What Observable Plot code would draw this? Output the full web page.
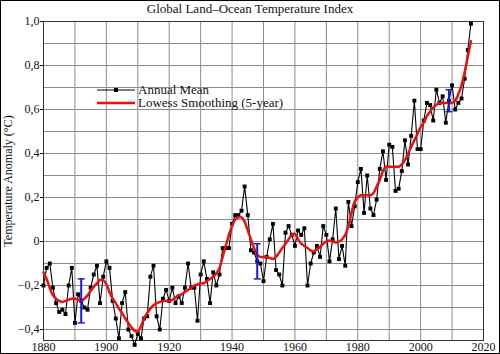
<!DOCTYPE html>
<html>
<head>
<meta charset="utf-8">
<script src="https://cdn.jsdelivr.net/npm/d3@7"></script>
<script src="https://cdn.jsdelivr.net/npm/@observablehq/plot@0.6"></script>
<style>
  body { margin: 0; background: #fff; }
  #wrap { position: relative; width: 500px; height: 354px; font-family: "Liberation Serif", "DejaVu Serif", serif; }
  #title { height: 16px; line-height: 17px; font-size: 13px; text-align: center; color: #111; }
  #border { position: absolute; left: 0; top: 0; width: 500px; height: 354px; box-sizing: border-box; border: 1.5px solid #000; pointer-events: none; }
  #legend { position: absolute; left: 97px; top: 83px; font-size: 13px; color: #111; }
  .row { display: flex; align-items: center; height: 13.5px; }
  .row svg { margin-right: 3px; }
  #chart svg { overflow: visible; }
  #chart svg, #chart svg text { font-family: "Liberation Serif", serif !important; }
</style>
</head>
<body>
<div id="wrap">
  <div id="title">Global Land–Ocean Temperature Index</div>
  <div id="chart"></div>
  <div id="legend">
    <div class="row"><svg width="38" height="8"><line x1="0" y1="4" x2="38" y2="4" stroke="#000" stroke-width="1"/><rect x="17" y="2" width="4" height="4" fill="#000"/></svg><span>Annual Mean</span></div>
    <div class="row"><svg width="38" height="8"><line x1="0" y1="4" x2="38" y2="4" stroke="#e81010" stroke-width="2.5"/></svg><span>Lowess Smoothing (5-year)</span></div>
  </div>
  <div id="border"></div>
</div>
<script>
const years = d3.range(1880, 2017);

const annualMean = [
  -0.20, -0.12, -0.10, -0.21, -0.28, -0.32, -0.31, -0.33, -0.20, -0.12, // 1880s
  -0.37, -0.24, -0.27, -0.30, -0.31, -0.21, -0.15, -0.11, -0.28, -0.16, // 1890s
  -0.09, -0.12, -0.27, -0.35, -0.44, -0.28, -0.23, -0.40, -0.43, -0.47, // 1900s
  -0.42, -0.44, -0.35, -0.34, -0.16, -0.11, -0.34, -0.40, -0.26, -0.22, // 1910s
  -0.27, -0.21, -0.28, -0.25, -0.28, -0.21, -0.10, -0.21, -0.21, -0.36, // 1920s
  -0.15, -0.09, -0.17, -0.28, -0.14, -0.20, -0.15, -0.03, -0.03, -0.03, // 1930s
   0.08,  0.12,  0.12,  0.14,  0.25,  0.12, -0.04, -0.05, -0.09, -0.10, // 1940s
  -0.18, -0.07,  0.01,  0.08, -0.13, -0.15, -0.20,  0.04,  0.07,  0.03, // 1950s
  -0.02,  0.05,  0.03,  0.06, -0.20, -0.10, -0.05, -0.02, -0.07,  0.07, // 1960s
   0.03, -0.09,  0.01,  0.15, -0.08, -0.02, -0.11,  0.18,  0.07,  0.16, // 1970s
   0.27,  0.33,  0.13,  0.30,  0.15,  0.12,  0.19,  0.33,  0.41,  0.28, // 1980s
   0.44,  0.43,  0.23,  0.24,  0.32,  0.46,  0.35,  0.48,  0.64,  0.42, // 1990s
   0.42,  0.55,  0.63,  0.62,  0.55,  0.69,  0.63,  0.66,  0.54,  0.64, // 2000s
   0.71,  0.60,  0.63,  0.65,  0.74,  0.87,  0.99                        // 2010s
];

const lowess5 = [
  -0.14, -0.17, -0.21, -0.245, -0.26, -0.27, -0.275, -0.27, -0.265, -0.26,
  -0.26, -0.265, -0.27, -0.26, -0.245, -0.225, -0.205, -0.19, -0.175, -0.175,
  -0.195, -0.23, -0.26, -0.28, -0.305, -0.325, -0.35, -0.37, -0.39, -0.405,
  -0.41, -0.385, -0.35, -0.325, -0.305, -0.29, -0.28, -0.275, -0.27, -0.27,
  -0.27, -0.265, -0.255, -0.245, -0.24, -0.23, -0.22, -0.21, -0.20, -0.195,
  -0.19, -0.19, -0.18, -0.17, -0.16, -0.145, -0.12, -0.07, -0.02, 0.03,
   0.07, 0.10, 0.11, 0.11, 0.09, 0.05, 0.01, -0.03, -0.06, -0.07,
  -0.07, -0.07, -0.075, -0.08, -0.07, -0.05, -0.03, -0.01, 0.01, 0.03,
   0.035, 0.01, -0.01, -0.02, -0.03, -0.04, -0.045, -0.035, -0.025, -0.01,
   0.0, 0.005, 0.0, -0.005, 0.0, 0.01, 0.03, 0.07, 0.13, 0.18,
   0.20, 0.21, 0.21, 0.21, 0.21, 0.22, 0.25, 0.28, 0.32, 0.34,
   0.34, 0.34, 0.34, 0.34, 0.35, 0.37, 0.40, 0.43, 0.46, 0.49,
   0.52, 0.54, 0.57, 0.59, 0.61, 0.62, 0.63, 0.63, 0.63, 0.63,
   0.63, 0.64, 0.67, 0.71, 0.77, 0.84, 0.91
];

const errYears = [1892, 1948, 2009];
const errLow   = [-0.37, -0.17, 0.59];
const errHigh  = [-0.17, -0.01, 0.69];

const xTicks = [1880, 1900, 1920, 1940, 1960, 1980, 2000, 2020];
const xTickLabels = ["1880", "1900", "1920", "1940", "1960", "1980", "2000", "2020"];
const yTicks = [-0.4, -0.2, 0, 0.2, 0.4, 0.6, 0.8, 1.0];
const yTickLabels = ["\u22120,4", "\u22120,2", "0", "0,2", "0,4", "0,6", "0,8", "1,0"];
const xGrid = d3.range(1880, 2021, 10);
const yGrid = d3.range(-4, 11).map(d => d / 10);

const annual = years.map((y, i) => ({year: y, value: annualMean[i]}));
const smooth = years.map((y, i) => ({year: y, value: lowess5[i]}));
const errs = errYears.map((y, i) => ({year: y, lo: errLow[i], hi: errHigh[i]}));

const capSymbol = {
  draw(ctx, size) {
    const r = Math.sqrt(size / Math.PI);
    ctx.moveTo(-r, 0);
    ctx.lineTo(r, 0);
  }
};

const chart = Plot.plot({
  width: 500,
  height: 338,
  marginTop: 5,
  marginBottom: 14,
  marginLeft: 43,
  marginRight: 17,
  style: {fontFamily: "'Liberation Serif', serif", fontSize: "12px", color: "#111", background: "transparent", overflow: "visible"},
  x: {domain: [1880, 2020]},
  y: {domain: [-0.45, 1.0]},
  marks: [
    Plot.gridX(xGrid, {stroke: "#8c8c8c", strokeOpacity: 1, strokeWidth: 1}),
    Plot.gridY(yGrid, {stroke: "#8c8c8c", strokeOpacity: 1, strokeWidth: 1}),
    Plot.frame({stroke: "#333", strokeWidth: 1}),
    Plot.axisX(xTicks, {tickSize: 0, tickPadding: 2, tickFormat: (d, i) => xTickLabels[i], label: null, fontSize: 12}),
    Plot.axisY(yTicks, {tickSize: 3, tickPadding: 1, tickFormat: (d, i) => yTickLabels[i], label: "Temperature Anomaly (°C)", labelAnchor: "center", labelArrow: "none", labelOffset: 40, fontSize: 12}),
    Plot.line(annual, {x: "year", y: "value", stroke: "#000", strokeWidth: 1.1}),
    Plot.dot(annual, {x: "year", y: "value", symbol: "square", r: 2.2, fill: "#000", stroke: null}),
    Plot.line(smooth, {x: "year", y: "value", stroke: "#e81010", strokeWidth: 2.5, curve: "catmull-rom"}),
    Plot.ruleX(errs, {x: "year", y1: "lo", y2: "hi", stroke: "#1818d8", strokeWidth: 2}),
    Plot.dot(errs, {x: "year", y: "lo", symbol: capSymbol, r: 3.5, stroke: "#1818d8", strokeWidth: 1.5, fill: "none"}),
    Plot.dot(errs, {x: "year", y: "hi", symbol: capSymbol, r: 3.5, stroke: "#1818d8", strokeWidth: 1.5, fill: "none"})
  ]
});
document.getElementById("chart").appendChild(chart);
</script>
</body>
</html>
